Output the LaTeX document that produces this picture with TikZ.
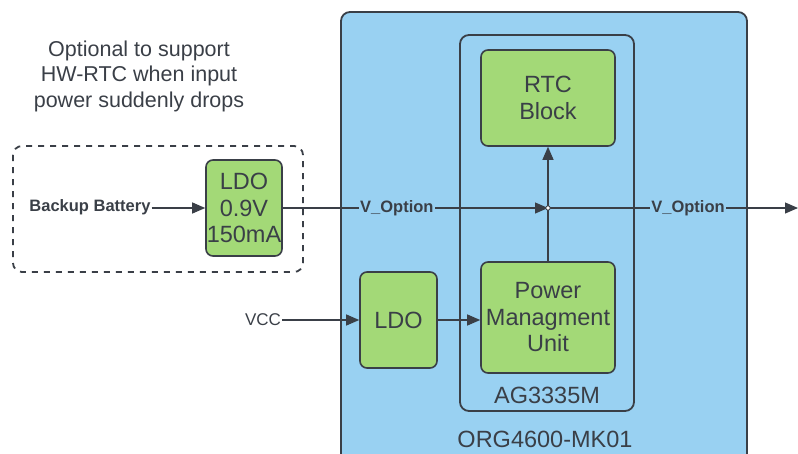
\documentclass[tikz,border=0pt]{standalone}
\usepackage{fontspec}
\setmainfont{Liberation Sans}
\usetikzlibrary{positioning}
\usetikzlibrary{arrows.meta}
\definecolor{modblue}{HTML}{99D1F2}
\definecolor{blockgreen}{HTML}{A3D977}
\definecolor{edgegray}{HTML}{3A3F47}
\tikzset{
    block diagram/.style={
            x=1pt,y=-1pt,
            every node/.style={font=\fontsize{23.5}{26.5}\selectfont, text=edgegray},
            block/.style={draw=edgegray, line width=1.6pt, fill=blockgreen, rounded corners=7pt, align=center, inner sep=0pt},
            frame/.style={draw=edgegray, line width=1.8pt, rounded corners=9pt, inner sep=0pt},
            arrow/.style={-{Triangle[length=13pt,width=11pt]}, draw=edgegray, line width=1.1pt},
            tag/.style={font=\bfseries\fontsize{16.5}{19}\selectfont, fill=modblue, inner sep=1pt}
        }
    }

\begin{document}
\begin{tikzpicture}[block diagram]
    \clip (0,0) rectangle (798,453);

    % containers
    \node [frame, fill=modblue, minimum width=406pt, minimum height=470pt] (org) at (544,247) {};
    \node [frame, minimum width=174pt, minimum height=376pt] (ag) at (547,223) {};
    \node [] (orgname) at (545,439) {ORG4600-MK01};
    \node [] (agname) at (547,395) {AG3335M};

    % optional backup supply
    \draw [edgegray, line width=1.8pt, dashed, dash pattern=on 6pt off 6pt, rounded corners=9pt] (13,146) rectangle (303,272);
    \node [align=center, font=\fontsize{21.5}{25.5}\selectfont] (note) at (139,76) {Optional to support\\HW-RTC when input\\power suddenly drops};
    \node [block, minimum width=76pt, minimum height=96pt] (ldob) at (244,208) {LDO\\0.9V\\150mA};
    \node [font=\bfseries\fontsize{16.5}{19}\selectfont, inner sep=1pt] (batt) at (90,207) {Backup Battery};

    % blocks
    \node [block, minimum width=77pt, minimum height=96pt] (ldoa) at (398.5,320) {LDO};
    \node [block, minimum width=134pt, minimum height=96pt] (rtc) at (548,98) {RTC\\Block};
    \node [block, minimum width=134pt, minimum height=111pt] (pmu) at (548,317.5) {Power\\Managment\\Unit};
    \node [font=\fontsize{17}{19}\selectfont, inner sep=1pt] (vcc) at (263,320) {VCC};

    \coordinate (jn) at (548,208);
    \coordinate (out) at (798,208);

    \draw [arrow] (batt.east |- ldob) -- (ldob.west);
    \draw [arrow] (ldob.east) -- (jn) node [tag, pos=0.43] {V\_Option};
    \draw [arrow] (jn) -- (out) node [tag, pos=0.56] {V\_Option};
    \draw [arrow] (pmu.north) -- (rtc.south);
    \draw [arrow] (vcc.east) -- (ldoa.west);
    \draw [arrow] (ldoa.east) -- (ldoa.east -| pmu.west);
    \draw [edgegray, fill=white, line width=0.8pt] (jn) circle (2.2pt);

\end{tikzpicture}
\end{document}
